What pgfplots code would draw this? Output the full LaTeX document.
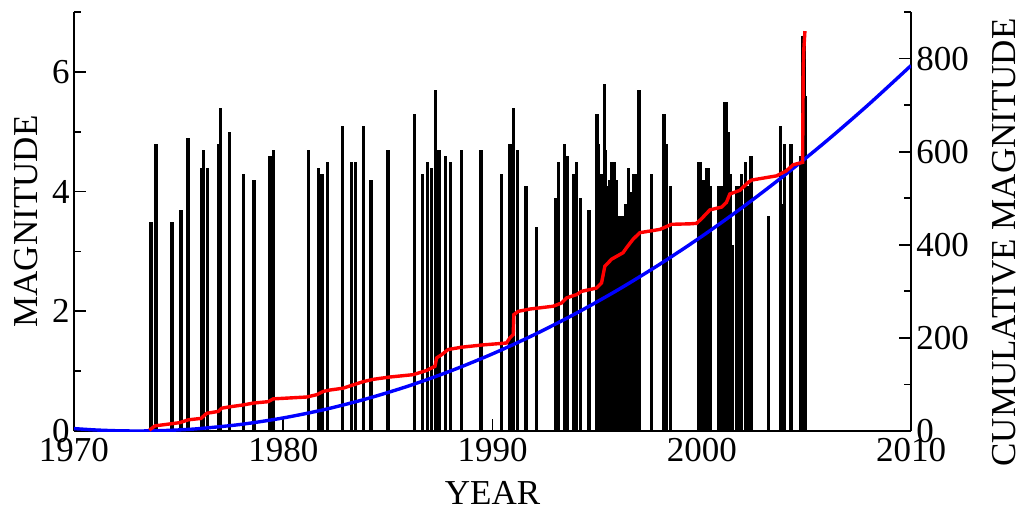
\documentclass[border=0pt]{standalone}
\usepackage{fontspec}
\setmainfont{Liberation Serif}
\usepackage{pgfplots}
\pgfplotsset{compat=1.18}
\begin{document}
\begin{tikzpicture}
\path[use as bounding box] (-37pt,-41.5pt) rectangle (474pt,215.5pt);
\pgfplotsset{
  every axis/.append style={
    scale only axis, width=418.5pt, height=209.5pt,
    xmin=1970, xmax=2010, enlargelimits=false,
    tick align=inside,
    major tick length=6pt, minor tick length=3.5pt,
    every tick/.style={black, line width=0.9pt},
    axis line style={black, line width=1.3pt},
    tick label style={font=\fontsize{17.5}{20}\selectfont, inner sep=0pt},
    label style={font=\fontsize{17.5}{20}\selectfont, inner sep=0pt},
    /pgf/number format/assume math mode=true,
    /pgf/number format/1000 sep={},
  }
}
\begin{axis}[
  axis x line*=bottom, axis y line*=left,
  ymin=0, ymax=7,
  xtick={1970,1980,1990,2000,2010},
  ytick={0,2,4,6}, minor ytick={1,3,5,7},
  xticklabel style={anchor=north, yshift=-3.5pt},
  yticklabel style={anchor=east, xshift=-2pt},
  xlabel={YEAR}, ylabel={MAGNITUDE},
  xlabel style={at={(axis description cs:0.5,0)}, anchor=center, yshift=-30.75pt},
  ylabel style={at={(axis description cs:0,0.5)}, anchor=center, yshift=24pt},
]
\addplot[ycomb, black, line width=1.65pt, mark=none] coordinates {
(1973.68,3.5) (1973.92,4.8) (1974.68,3.5) (1975.11,3.7) (1975.45,4.9)
(1976.10,4.4) (1976.20,4.7) (1976.37,4.4) (1976.93,4.8) (1977.01,5.4)
(1977.44,5.0) (1978.11,4.3) (1978.60,4.2) (1979.36,4.6) (1979.52,4.7)
(1981.19,4.7) (1981.67,4.4) (1981.85,4.3) (1982.10,4.5) (1982.84,5.1)
(1983.25,4.5) (1983.44,4.5) (1983.84,5.1) (1984.19,4.2) (1985.00,4.7)
(1986.28,5.3) (1986.67,4.3) (1986.91,4.5) (1987.10,4.4) (1987.28,5.7)
(1987.44,4.7) (1987.76,4.6) (1988.00,4.5) (1988.52,4.7) (1989.45,4.7)
(1990.43,4.3) (1990.83,4.8) (1991.01,5.4) (1991.20,4.7) (1991.60,4.1)
(1992.11,3.4) (1993.00,3.9) (1993.17,4.5) (1993.43,4.8) (1993.56,4.6)
(1993.90,4.3) (1994.02,4.5) (1994.19,3.9) (1994.61,3.7) (1995.00,5.3)
(1995.07,4.8) (1995.16,4.3) (1995.24,4.3) (1995.34,5.8) (1995.40,4.7)
(1995.48,4.1) (1995.58,4.2) (1995.69,4.5) (1995.81,4.5) (1995.93,4.2)
(1996.10,3.6) (1996.22,3.6) (1996.34,3.8) (1996.50,4.4) (1996.61,4.0)
(1996.76,4.3) (1996.91,4.3) (1997.00,5.7) (1997.60,4.3) (1998.19,5.3)
(1998.33,4.8) (1998.51,4.1) (1999.83,4.5) (1999.93,4.5) (2000.02,4.2)
(2000.12,4.2) (2000.21,4.4) (2000.30,4.4) (2000.39,4.1) (2000.83,4.1)
(2000.93,4.1) (2001.09,5.5) (2001.17,5.5) (2001.25,5.0) (2001.36,4.3)
(2001.45,3.1) (2001.66,4.1) (2001.78,4.1) (2001.90,4.3) (2002.09,4.5)
(2002.17,4.1) (2002.36,4.6) (2003.19,3.6) (2003.77,5.1) (2003.85,3.8)
(2003.97,4.8) (2004.26,4.8) (2004.74,4.6) (2004.82,6.6) (2004.90,6.6)
(2004.97,5.6)
};
\end{axis}
\begin{axis}[
  axis y line*=right, axis x line=none,
  ymin=0, ymax=900,
  ytick={0,200,400,600,800}, minor ytick={100,300,500,700,900},
  yticklabel style={anchor=west, xshift=2.5pt},
  ylabel={CUMULATIVE MAGNITUDE},
  ylabel style={at={(axis description cs:1,0.5)}, anchor=center, yshift=-46.5pt, xshift=-10.5pt},
]
\addplot[blue, line width=1.7pt, smooth, mark=none] coordinates {
(1970,5.2) (1971,2.3) (1972,0.6) (1973,0) (1974,0.6) (1975,2.3) (1976,5.2)
(1978,14.3) (1980,28.1) (1982,46.4) (1984,69.4) (1986,96.9) (1988,129.0)
(1990,165.7) (1992,207.0) (1994,252.9) (1996,303.3) (1998,358.4) (2000,418.0)
(2002,482.2) (2004,551.0) (2006,624.4) (2008,702.4) (2010,785.0)
};
\addplot[red, line width=1.7pt, mark=none] coordinates {
(1973.60,2) (1973.87,11) (1975.06,18) (1975.46,24) (1976.07,27) (1976.34,38)
(1976.89,42) (1977.06,49) (1977.45,52) (1978.09,56) (1978.57,60) (1979.28,63)
(1979.52,69) (1981.12,73) (1981.60,78) (1981.91,85) (1982.23,88) (1982.87,92)
(1983.34,99) (1983.82,106) (1984.30,111) (1985.10,116) (1986.21,121) (1986.85,130)
(1987.25,139) (1987.33,157) (1987.57,164) (1987.88,175) (1988.52,180) (1989.56,185)
(1990.67,189) (1990.83,200) (1990.99,207) (1991.02,250) (1991.23,257) (1991.79,262)
(1992.90,268) (1993.30,275) (1993.54,286) (1994.02,293) (1994.26,300) (1994.97,307)
(1995.21,318) (1995.37,354) (1995.69,369) (1996.24,383) (1996.41,394) (1996.72,412)
(1997.04,426) (1998.00,433) (1998.56,444) (1999.43,445) (1999.75,446) (1999.99,456)
(2000.39,475) (2000.95,481) (2001.18,491) (2001.34,509) (2001.82,517) (2002.22,534)
(2002.38,539) (2003.57,548) (2004.05,559) (2004.37,572) (2004.82,577) (2004.85,778)
(2004.88,821) (2004.93,859)
};
\end{axis}
\end{tikzpicture}
\end{document}
